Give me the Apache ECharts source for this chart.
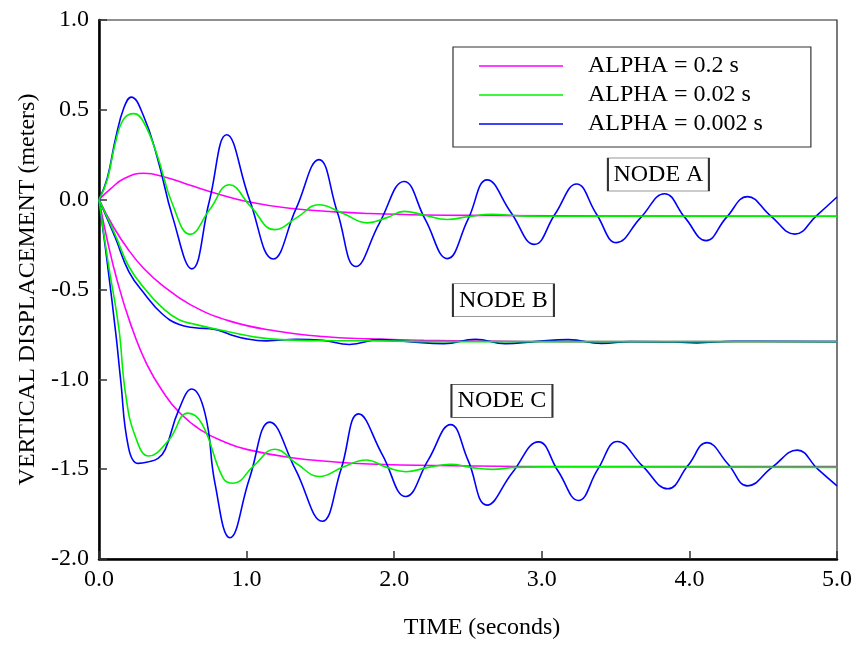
<!DOCTYPE html>
<html>
<head>
<meta charset="utf-8">
<script src="https://cdn.jsdelivr.net/npm/echarts@6/dist/echarts.min.js"></script>
<style>
html,body{margin:0;padding:0;background:#fff;}
#chart{width:855px;height:645px;}
</style>
</head>
<body>
<div id="chart"></div>
<script>
// Legend / series names
const seriesNames = ['ALPHA = 0.2 s', 'ALPHA = 0.02 s', 'ALPHA = 0.002 s'];
const xTicks = [0, 1, 2, 3, 4, 5];
const yTicks = [-2, -1.5, -1, -0.5, 0, 0.5, 1];
const nodeLabels = ['NODE A', 'NODE B', 'NODE C'];

// NODE A  [time (s), displacement (m)]
const nodeA_02 = [[0,0],[0.078,0.06],[0.168,0.116],[0.303,0.147],[0.45,0.125],[0.618,0.08],[0.8,0.033],[1.0,-0.01],[1.29,-0.048],[1.6,-0.068],[1.83,-0.077],[2.2,-0.085],[2.66,-0.088],[3.5,-0.091],[5,-0.092]];
const nodeA_002 = [[0,0],[0.056,0.11],[0.112,0.32],[0.168,0.45],[0.236,0.479],[0.3,0.435],[0.393,0.25],[0.5,-0.03],[0.618,-0.193],[0.75,-0.055],[0.883,0.083],[1.03,-0.04],[1.19,-0.167],[1.34,-0.1],[1.49,-0.028],[1.65,-0.075],[1.82,-0.129],[1.95,-0.1],[2.067,-0.065],[2.2,-0.085],[2.36,-0.11],[2.5,-0.095],[2.66,-0.081],[2.85,-0.09],[3.0,-0.092],[5,-0.092]];
const nodeA_0002 = [[0,0],[0.056,0.12],[0.112,0.34],[0.168,0.51],[0.218,0.571],[0.3,0.47],[0.393,0.24],[0.5,-0.1],[0.629,-0.385],[0.747,-0.01],[0.865,0.361],[1.02,0.0],[1.18,-0.33],[1.335,-0.05],[1.49,0.223],[1.615,-0.07],[1.74,-0.372],[1.9,-0.13],[2.067,0.101],[2.21,-0.11],[2.36,-0.328],[2.5,-0.11],[2.63,0.11],[2.79,-0.07],[2.95,-0.249],[3.09,-0.08],[3.236,0.087],[3.37,-0.08],[3.506,-0.239],[3.67,-0.1],[3.832,0.033],[3.97,-0.1],[4.113,-0.228],[4.25,-0.1],[4.394,0.017],[4.55,-0.09],[4.715,-0.192],[4.86,-0.09],[5.0,0.015]];

// NODE B
const nodeB_02 = [[0,0],[0.1,-0.155],[0.2,-0.28],[0.3,-0.38],[0.427,-0.475],[0.618,-0.584],[0.887,-0.676],[1.2,-0.731],[1.517,-0.762],[1.83,-0.775],[2.2,-0.783],[2.6,-0.787],[3.2,-0.79],[5,-0.79]];
const nodeB_002 = [[0,0],[0.112,-0.2],[0.202,-0.372],[0.314,-0.5],[0.427,-0.6],[0.539,-0.667],[0.651,-0.694],[0.854,-0.731],[1.157,-0.775],[1.5,-0.785],[1.8,-0.785],[2.2,-0.79],[5,-0.79]];
const nodeB_0002 = [[0,0],[0.112,-0.215],[0.202,-0.4],[0.314,-0.53],[0.427,-0.635],[0.539,-0.694],[0.651,-0.713],[0.786,-0.722],[0.887,-0.75],[1.0,-0.775],[1.135,-0.786],[1.337,-0.777],[1.517,-0.783],[1.697,-0.806],[1.9,-0.779],[2.1,-0.79],[2.337,-0.801],[2.55,-0.777],[2.753,-0.801],[2.95,-0.79],[3.18,-0.779],[3.405,-0.8],[3.6,-0.79],[3.9,-0.792],[4.05,-0.797],[4.3,-0.788],[5,-0.79]];

// NODE C
const nodeC_02 = [[0,0],[0.06,-0.24],[0.123,-0.45],[0.213,-0.69],[0.326,-0.92],[0.45,-1.09],[0.539,-1.18],[0.685,-1.28],[0.854,-1.35],[1.0,-1.39],[1.292,-1.435],[1.6,-1.46],[1.83,-1.471],[2.3,-1.48],[3,-1.485],[5,-1.485]];
const nodeC_002 = [[0,0],[0.06,-0.34],[0.134,-0.713],[0.18,-1.081],[0.247,-1.32],[0.337,-1.427],[0.472,-1.339],[0.602,-1.188],[0.697,-1.247],[0.842,-1.551],[0.91,-1.578],[1.05,-1.48],[1.19,-1.389],[1.34,-1.47],[1.494,-1.541],[1.65,-1.49],[1.809,-1.449],[1.95,-1.49],[2.079,-1.514],[2.23,-1.49],[2.382,-1.473],[2.52,-1.49],[2.663,-1.501],[2.82,-1.49],[3.0,-1.487],[5,-1.49]];
const nodeC_0002 = [[0,0],[0.056,-0.35],[0.117,-0.768],[0.145,-0.99],[0.2,-1.38],[0.265,-1.468],[0.33,-1.46],[0.4,-1.44],[0.449,-1.39],[0.539,-1.173],[0.629,-1.054],[0.719,-1.192],[0.786,-1.58],[0.887,-1.882],[1.02,-1.55],[1.157,-1.238],[1.33,-1.5],[1.512,-1.79],[1.64,-1.5],[1.759,-1.192],[1.92,-1.42],[2.079,-1.652],[2.23,-1.45],[2.382,-1.252],[2.5,-1.45],[2.629,-1.7],[2.8,-1.52],[2.978,-1.348],[3.11,-1.51],[3.248,-1.674],[3.38,-1.5],[3.512,-1.346],[3.68,-1.48],[3.854,-1.609],[3.99,-1.48],[4.119,-1.352],[4.26,-1.47],[4.394,-1.593],[4.56,-1.49],[4.731,-1.394],[4.87,-1.5],[5.0,-1.593]];

const colors = ['#ff00ff', '#00f000', '#0000ff'];
const FONT = '"Liberation Serif", "Times New Roman", serif';

const chart = echarts.init(document.getElementById('chart'), null, {renderer: 'canvas'});

function mk(name, data, color, z) {
  return {
    name: name, type: 'line', data: data, smooth: 0.45, symbol: 'none', z: z,
    lineStyle: {color: color, width: 1.6}, itemStyle: {color: color}
  };
}
function nodeLabel(text, coord) {
  return {
    name: text, coord: coord, symbol: 'rect', symbolSize: [101, 33],
    itemStyle: {color: '#fff', borderColor: '#333', borderWidth: 1.2},
    label: {show: true, position: 'inside', formatter: '{b}', color: '#000',
      fontFamily: FONT, fontSize: 24}
  };
}

const series = [
  mk(seriesNames[0], nodeA_02, colors[0], 2),
  mk(seriesNames[0], nodeB_02, colors[0], 2),
  mk(seriesNames[0], nodeC_02, colors[0], 2),
  mk(seriesNames[2], nodeA_0002, colors[2], 3),
  mk(seriesNames[2], nodeB_0002, colors[2], 3),
  mk(seriesNames[2], nodeC_0002, colors[2], 3),
  mk(seriesNames[1], nodeA_002, colors[1], 4),
  mk(seriesNames[1], nodeB_002, colors[1], 4),
  mk(seriesNames[1], nodeC_002, colors[1], 4)
];
series.push({
  type: 'line', data: [], silent: true, z: 10,
  markPoint: {
    animation: false,
    data: [
      nodeLabel(nodeLabels[0], [3.79, 0.14]),
      nodeLabel(nodeLabels[1], [2.74, -0.56]),
      nodeLabel(nodeLabels[2], [2.73, -1.12])
    ]
  }
});

chart.setOption({
  animation: false,
  backgroundColor: '#fff',
  textStyle: {fontFamily: FONT},
  grid: {left: 99, right: 16, top: 20, bottom: 82, show: true, borderColor: '#222', borderWidth: 1.2, backgroundColor: 'transparent'},
  legend: {
    data: seriesNames, orient: 'vertical', left: 453, top: 47,
    width: 359, backgroundColor: '#fff', borderColor: '#333', borderWidth: 1.2,
    padding: [7, 48, 11, 26], itemGap: 5, itemWidth: 84, itemHeight: 1.5, icon: 'rect',
    textStyle: {fontFamily: FONT, fontSize: 24, color: '#000', lineHeight: 24, padding: [0, 0, 0, 20]},
    selectedMode: false
  },
  xAxis: {
    type: 'value', min: xTicks[0], max: xTicks[xTicks.length - 1], interval: 1,
    name: 'TIME (seconds)', nameLocation: 'middle', nameGap: 57,
    nameTextStyle: {fontFamily: FONT, fontSize: 24, color: '#000', padding: [0, 0, 0, 28]},
    axisLine: {show: true, onZero: false, lineStyle: {color: '#000', width: 2.5}},
    axisTick: {show: true, inside: true, length: 8, lineStyle: {color: '#333', width: 1.5}},
    axisLabel: {formatter: v => v.toFixed(1), fontFamily: FONT, fontSize: 24, color: '#000', margin: 9},
    splitLine: {show: false}
  },
  yAxis: {
    type: 'value', min: yTicks[0], max: yTicks[yTicks.length - 1], interval: 0.5,
    name: 'VERTICAL DISPLACEMENT (meters)', nameLocation: 'middle', nameGap: 58,
    nameTextStyle: {fontFamily: FONT, fontSize: 24, color: '#000'},
    axisLine: {show: true, onZero: false, lineStyle: {color: '#000', width: 2.5}},
    axisTick: {show: true, inside: true, length: 8, lineStyle: {color: '#333', width: 1.5}},
    axisLabel: {formatter: v => v.toFixed(1), fontFamily: FONT, fontSize: 24, color: '#000', margin: 10},
    splitLine: {show: false}
  },
  series: series
});
</script>
</body>
</html>
